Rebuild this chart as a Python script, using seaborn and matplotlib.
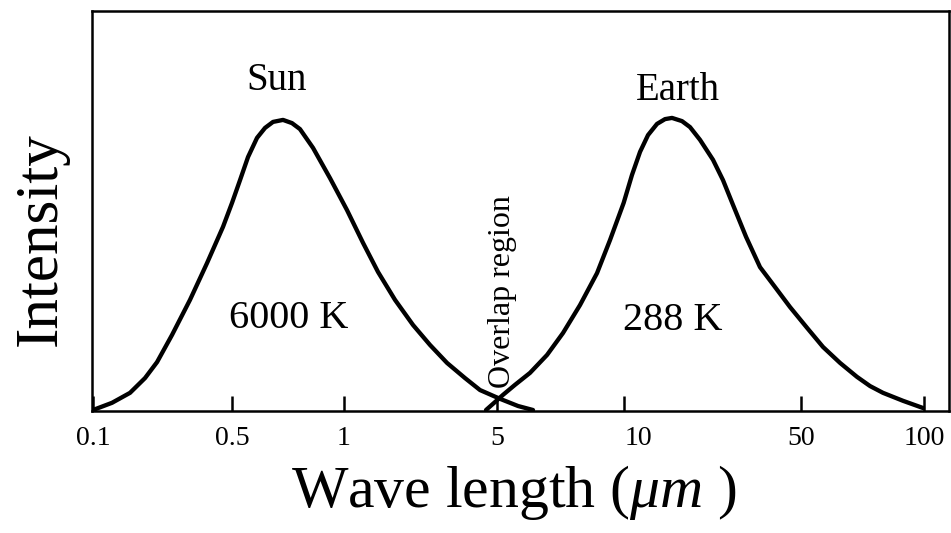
import numpy as np
import pandas as pd
import matplotlib
matplotlib.use("Agg")
import matplotlib.pyplot as plt
import matplotlib.transforms as mtransforms
from matplotlib.ticker import FixedLocator, FixedFormatter, NullLocator
import seaborn as sns

# ---------------- data ----------------
SUN_WAVELENGTH = [0.100, 0.1246, 0.1535, 0.1826, 0.2099, 0.2496, 0.3074, 0.3743,
                  0.4505, 0.500, 0.5254, 0.5521, 0.5837, 0.6134, 0.6445, 0.6856,
                  0.7247, 0.7614, 0.8254, 0.9171, 1.032, 1.221, 1.430, 1.710,
                  2.067, 2.471, 2.955, 3.571, 4.181, 5.083, 5.608, 6.085]
SUN_INTENSITY = [0.0, 1.8, 4.3, 8.0, 12.0, 18.8, 27.6, 36.8,
                 45.9, 51.9, 57.6, 63.4, 68.2, 70.7, 72.2, 72.7,
                 71.9, 70.4, 65.7, 58.1, 50.1, 41.9, 34.6, 27.6,
                 21.3, 16.3, 11.8, 8.0, 5.0, 2.8, 1.0, 0.0]

EARTH_WAVELENGTH = [4.454, 4.897, 5.167, 5.515, 5.986, 6.570, 7.168, 7.865,
                    8.630, 9.265, 9.98, 10.75, 11.57, 12.44, 13.50, 14.52,
                    15.47, 16.94, 18.22, 19.96, 22.46, 24.60, 26.94, 30.33,
                    34.44, 39.49, 45.24, 51.72, 56.59, 62.30, 68.55, 73.77,
                    79.36, 88.85, 99.45]
EARTH_INTENSITY = [0.0, 2.0, 3.8, 6.3, 9.3, 13.8, 19.3, 26.3,
                   34.3, 42.6, 51.9, 58.9, 64.7, 68.9, 71.7, 72.9,
                   73.2, 72.4, 70.9, 67.7, 62.7, 57.6, 51.4, 43.4,
                   35.8, 30.8, 25.8, 20.6, 15.8, 11.8, 8.3, 6.0,
                   4.3, 2.3, 0.5]

TICK_VALUES = [0.1, 0.5, 1, 5, 10, 50, 100]
TICK_LABELS = ["0.1", "0.5", "1", "5", "10", "50", "100"]

# The original hand-drawn wavelength axis is not an exact log axis:
# relative positions of its tick marks (used to build the axis scale).
WARP_LOG = np.log10([0.01, 0.1, 0.5, 1, 5, 10, 50, 100, 1000])
WARP_POS = np.array([-106, 93, 232, 344, 497, 624, 801, 924, 1333], dtype=float)


def fwd(x):
    x = np.asarray(x, dtype=float)
    return np.interp(np.log10(np.clip(x, 1e-9, None)), WARP_LOG, WARP_POS)


def inv(p):
    p = np.asarray(p, dtype=float)
    return 10 ** np.interp(p, WARP_POS, WARP_LOG)


# ---------------- style ----------------
sns.set_theme(style="white")
plt.rcParams["font.family"] = ["Liberation Serif", "DejaVu Serif"]
plt.rcParams["mathtext.fontset"] = "custom"
plt.rcParams["mathtext.it"] = "Liberation Serif:italic"
plt.rcParams["mathtext.rm"] = "Liberation Serif"

fig = plt.figure(figsize=(9.51, 5.33), dpi=100)
ax = fig.add_axes([0.0967, 0.2289, 0.9012, 0.7505])

sun = pd.DataFrame({"wavelength": SUN_WAVELENGTH, "intensity": SUN_INTENSITY})
earth = pd.DataFrame({"wavelength": EARTH_WAVELENGTH, "intensity": EARTH_INTENSITY})

ax.set_xscale("function", functions=(fwd, inv))

for df in (sun, earth):
    sns.lineplot(data=df, x="wavelength", y="intensity", ax=ax, color="black",
                 linewidth=3.1, sort=False, estimator=None,
                 solid_joinstyle="round", solid_capstyle="round")

ax.set_xlim(0.0988, 115.1)
ax.set_ylim(-0.25, 100)

ax.xaxis.set_major_locator(FixedLocator(TICK_VALUES))
ax.xaxis.set_major_formatter(FixedFormatter(TICK_LABELS))
ax.xaxis.set_minor_locator(NullLocator())
ax.set_yticks([])

ax.tick_params(axis="x", direction="in", length=11, width=1.8, pad=11,
               labelsize=20, bottom=True, top=False, colors="black")
ax.tick_params(axis="y", left=False, labelleft=False)

for sp in ax.spines.values():
    sp.set_visible(True)
    sp.set_linewidth(1.8)
    sp.set_color("black")

ax.set_xlabel(r"Wave length ($\mathit{μm}$ )", fontsize=43, color="black")
ax.xaxis.set_label_coords(0.4918, -0.13)
ax.set_ylabel("Intensity", fontsize=44, color="black")
ax.yaxis.set_label_coords(-0.027, 0.431)

# annotations
ax.text(0.6587, 80.2, "Sun", fontsize=28, ha="center", va="baseline", color="black")
ax.text(16.34, 77.7, "Earth", fontsize=28, ha="center", va="baseline", color="black")
ax.text(0.7114, 20.6, "6000 K", fontsize=29, ha="center", va="baseline", color="black")
ax.text(15.61, 20.1, "288 K", fontsize=29, ha="center", va="baseline", color="black")
ax.text(5.37, 29.8, "Overlap region", fontsize=23, rotation=90, rotation_mode="anchor",
        ha="center", va="baseline", color="black")

fig.canvas.draw()
# the "10" label sits slightly right of its tick in the original
for tick in ax.xaxis.get_major_ticks():
    if tick.label1.get_text() == "10":
        off = mtransforms.ScaledTranslation(14 / 100, 0, fig.dpi_scale_trans)
        tick.label1.set_transform(tick.label1.get_transform() + off)

fig.savefig("out.png", dpi=100, facecolor="white")
